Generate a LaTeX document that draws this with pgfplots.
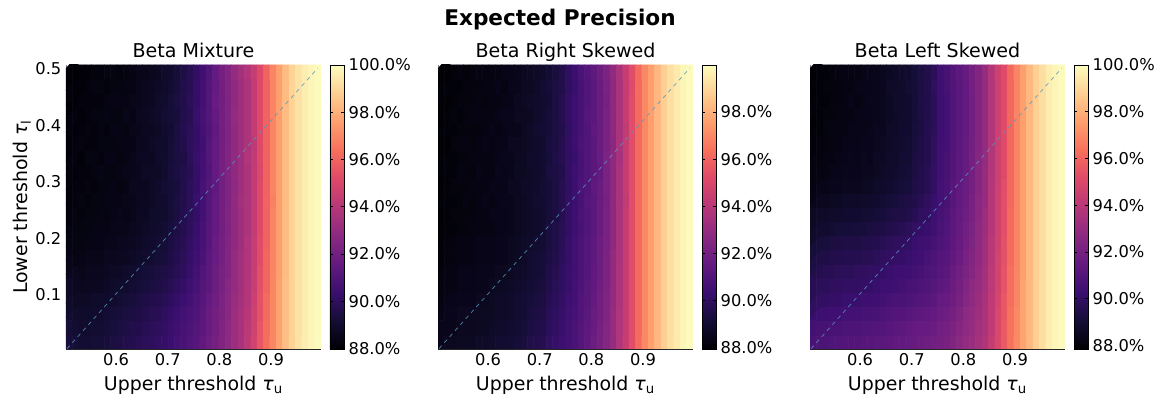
\documentclass[border=0pt]{standalone}
\usepackage{fontspec}
\setmainfont{DejaVu Sans}
\usepackage{pgfplots}
\pgfplotsset{compat=1.18}
\definecolor{steelb}{RGB}{86,150,190}

% magma; one value per line below, 40 per row, bottom row first
\pgfplotsset{
  colormap={magma}{
    rgb255=(0,0,4) rgb255=(20,14,54) rgb255=(59,15,112) rgb255=(100,26,128)
    rgb255=(140,41,129) rgb255=(183,55,121) rgb255=(222,73,104) rgb255=(247,112,92)
    rgb255=(254,159,109) rgb255=(254,207,146) rgb255=(252,253,191)
  },
  heat/.style={
    at={(#1,36.75pt)}, anchor=south west,
    scale only axis, width=191.25pt, height=213pt,
    xmin=0.503, xmax=0.9967, ymin=0.0044, ymax=0.507,
    axis x line*=bottom, axis y line*=left,
    x axis line style={-,black!85}, y axis line style={-,black!50},
    tick align=inside, major tick length=2.5pt, tick style={black,thin},
    xtick={0.6,0.7,0.8,0.9}, ytick={0.1,0.2,0.3,0.4,0.5},
    /pgf/number format/fixed, /pgf/number format/precision=1,
    /pgf/number format/fixed zerofill,
    /pgf/number format/assume math mode=true,
    tick label style={font=\fontsize{12.2}{14}\selectfont},
    label style={font=\fontsize{14.2}{16}\selectfont},
    title style={font=\fontsize{14.3}{16}\selectfont, text depth=0pt, yshift=-4.2pt},
    xlabel={Upper threshold \textit{τ}\textsubscript{u}},
    xlabel style={yshift=-1pt},
    colormap name=magma,
    colorbar,
    colorbar style={
      at={(1.0353,0)}, anchor=south west,
      width=10.5pt, height=213pt,
      ytick={88,90,92,94,96,98,100},
      yticklabel={\pgfmathprintnumber[fixed,fixed zerofill,precision=1,assume math mode=true]{\tick}\%},
      tick align=inside, major tick length=2pt,
      tick label style={font=\fontsize{12.2}{14}\selectfont},
    },
  },
  heatcells/.style={matrix plot*, mesh/cols=40, point meta=explicit},
  thresholdline/.style={no marks, dashed, color=steelb, opacity=0.85, line width=0.55pt, mesh/check=false},
}

\begin{document}
\begin{tikzpicture}
\useasboundingbox (0,0) rectangle (867pt,298.5pt);
\node[font=\fontsize{16.2}{18}\bfseries] at (420pt,283.5pt) {Expected Precision};

\begin{axis}[heat=49.5pt, title={Beta Mixture},
  ylabel={Lower threshold \textit{τ}\textsubscript{l}}, ylabel style={yshift=-3.5pt},
  point meta min=87.98, point meta max=100]
\addplot[heatcells] table[header=false, meta index=0,
  x expr={0.5092+0.01234*mod(\coordindex,40)}, y expr={0.017+0.02513*floor(\coordindex/40)}] {
89.3
89.2
89.1
89.1
89.2
89.2
89.3
89.4
89.5
89.6
89.7
89.8
89.9
90.0
90.1
90.2
90.4
90.6
90.8
91.0
91.2
91.5
91.8
92.1
92.4
92.8
93.2
93.6
94.1
94.8
95.6
96.3
97.0
97.7
98.4
98.9
99.3
99.6
99.8
99.95
89.2
89.1
89.0
89.0
89.1
89.1
89.2
89.3
89.4
89.5
89.6
89.6
89.8
89.9
90.0
90.1
90.3
90.5
90.7
90.9
91.1
91.4
91.7
92.0
92.4
92.8
93.2
93.6
94.1
94.7
95.6
96.3
97.0
97.7
98.4
98.9
99.3
99.6
99.8
99.95
89.1
89.0
88.9
88.9
89.0
89.0
89.1
89.2
89.3
89.4
89.4
89.5
89.6
89.8
89.8
90.0
90.2
90.4
90.6
90.8
91.0
91.3
91.7
92.0
92.3
92.7
93.2
93.6
94.0
94.7
95.5
96.2
97.0
97.7
98.4
98.9
99.3
99.6
99.8
99.95
88.9
88.8
88.8
88.8
88.9
88.9
88.9
89.0
89.1
89.2
89.3
89.4
89.5
89.6
89.7
89.8
90.0
90.2
90.4
90.6
90.9
91.2
91.6
91.9
92.3
92.7
93.1
93.5
93.9
94.6
95.5
96.2
97.0
97.7
98.4
98.9
99.3
99.6
99.8
99.95
88.8
88.7
88.6
88.7
88.7
88.7
88.8
88.9
89.0
89.0
89.1
89.2
89.3
89.4
89.5
89.6
89.8
90.0
90.2
90.5
90.7
91.1
91.4
91.8
92.2
92.6
93.0
93.4
93.9
94.5
95.4
96.1
97.0
97.7
98.4
98.9
99.3
99.6
99.8
99.95
88.6
88.6
88.5
88.6
88.6
88.6
88.7
88.8
88.8
88.9
89.0
89.1
89.2
89.3
89.4
89.5
89.6
89.8
90.0
90.3
90.6
91.0
91.4
91.8
92.2
92.5
93.0
93.4
93.8
94.5
95.4
96.1
96.9
97.6
98.3
98.9
99.3
99.6
99.8
99.95
88.5
88.4
88.4
88.5
88.5
88.5
88.6
88.6
88.7
88.7
88.8
88.9
89.0
89.1
89.2
89.3
89.5
89.7
89.9
90.2
90.5
90.8
91.3
91.7
92.1
92.5
93.0
93.4
93.8
94.4
95.3
96.1
96.9
97.6
98.3
98.9
99.3
99.6
99.8
99.95
88.4
88.3
88.3
88.4
88.4
88.4
88.5
88.5
88.6
88.6
88.7
88.8
88.9
89.0
89.1
89.2
89.4
89.6
89.8
90.1
90.4
90.7
91.2
91.7
92.1
92.5
92.9
93.3
93.8
94.4
95.3
96.0
96.9
97.6
98.3
98.9
99.3
99.6
99.8
99.95
88.3
88.3
88.3
88.3
88.4
88.4
88.4
88.5
88.5
88.5
88.6
88.7
88.8
88.9
89.0
89.1
89.3
89.5
89.7
90.0
90.3
90.7
91.2
91.6
92.0
92.4
92.9
93.3
93.7
94.3
95.2
96.0
96.9
97.6
98.3
98.9
99.3
99.6
99.8
99.95
88.2
88.3
88.2
88.3
88.3
88.4
88.3
88.4
88.5
88.4
88.5
88.7
88.7
88.9
88.9
89.0
89.2
89.4
89.7
89.9
90.2
90.6
91.1
91.6
92.0
92.5
92.9
93.3
93.7
94.3
95.2
96.0
96.9
97.6
98.3
98.9
99.3
99.6
99.8
99.95
88.2
88.2
88.3
88.2
88.3
88.3
88.4
88.4
88.4
88.5
88.5
88.6
88.7
88.8
89.0
89.0
89.2
89.4
89.6
89.9
90.3
90.6
91.1
91.6
92.0
92.4
92.9
93.4
93.7
94.3
95.2
96.0
96.8
97.6
98.3
98.9
99.3
99.6
99.8
99.95
88.1
88.2
88.2
88.3
88.2
88.3
88.3
88.4
88.3
88.4
88.6
88.6
88.6
88.8
88.9
89.1
89.2
89.3
89.6
89.9
90.2
90.7
91.1
91.5
92.0
92.4
92.8
93.3
93.7
94.3
95.2
96.0
96.9
97.6
98.3
98.9
99.3
99.6
99.8
99.95
88.2
88.1
88.2
88.2
88.3
88.4
88.3
88.3
88.4
88.5
88.5
88.6
88.8
88.8
88.8
89.0
89.3
89.4
89.6
89.8
90.2
90.6
91.0
91.6
92.1
92.4
92.9
93.3
93.7
94.3
95.1
96.0
96.9
97.6
98.3
98.9
99.3
99.6
99.8
99.95
88.2
88.2
88.1
88.3
88.3
88.2
88.4
88.4
88.3
88.4
88.5
88.7
88.7
88.7
88.9
89.0
89.2
89.4
89.5
89.9
90.3
90.6
91.1
91.6
92.0
92.5
92.9
93.3
93.8
94.3
95.2
96.0
96.9
97.6
98.3
98.9
99.3
99.6
99.8
99.95
88.1
88.2
88.3
88.2
88.2
88.3
88.3
88.3
88.4
88.4
88.4
88.6
88.6
88.8
88.9
88.9
89.2
89.4
89.6
90.0
90.2
90.5
91.1
91.6
92.0
92.4
92.9
93.3
93.7
94.2
95.2
96.0
96.9
97.6
98.3
98.9
99.3
99.6
99.8
99.95
88.2
88.1
88.2
88.3
88.2
88.3
88.2
88.4
88.4
88.3
88.5
88.5
88.7
88.7
88.8
89.0
89.1
89.4
89.7
89.9
90.2
90.6
91.0
91.5
92.0
92.4
92.9
93.3
93.7
94.3
95.2
96.0
96.9
97.6
98.3
98.9
99.3
99.6
99.8
99.95
88.2
88.2
88.1
88.2
88.3
88.3
88.4
88.3
88.3
88.5
88.4
88.6
88.7
88.8
88.9
89.1
89.2
89.3
89.6
89.8
90.3
90.7
91.1
91.6
92.0
92.4
93.0
93.3
93.7
94.3
95.2
96.0
96.9
97.6
98.3
98.9
99.3
99.6
99.8
99.95
88.1
88.1
88.2
88.2
88.2
88.2
88.3
88.4
88.4
88.4
88.5
88.5
88.6
88.7
88.9
89.0
89.2
89.4
89.6
89.9
90.2
90.6
91.1
91.7
92.0
92.4
92.9
93.3
93.7
94.3
95.2
96.0
96.9
97.6
98.3
98.9
99.3
99.6
99.8
99.95
88.2
88.1
88.1
88.2
88.3
88.3
88.2
88.3
88.3
88.4
88.4
88.5
88.6
88.7
88.8
88.9
89.1
89.3
89.6
89.8
90.2
90.6
91.1
91.6
92.0
92.5
92.9
93.3
93.7
94.3
95.2
96.0
96.9
97.6
98.3
98.9
99.3
99.6
99.8
99.95
88.1
88.0
88.1
88.1
88.2
88.2
88.3
88.3
88.2
88.3
88.4
88.5
88.5
88.6
88.7
88.9
89.0
89.2
89.5
89.8
90.1
90.5
91.0
91.6
92.1
92.5
93.0
93.4
93.8
94.4
95.2
96.0
96.9
97.6
98.3
98.9
99.3
99.6
99.8
99.95
};
\addplot[thresholdline] coordinates {(0.505,0.005) (0.991,0.502)};
\end{axis}

\begin{axis}[heat=328.5pt, title={Beta Right Skewed}, yticklabels={},
  point meta min=87.95, point meta max=99.99]
\addplot[heatcells] table[header=false, meta index=0,
  x expr={0.5092+0.01234*mod(\coordindex,40)}, y expr={0.017+0.02513*floor(\coordindex/40)}] {
88.5
88.6
88.6
88.7
88.7
88.7
88.8
88.8
88.9
89.0
89.0
89.1
89.2
89.3
89.5
89.6
89.7
90.0
90.2
90.4
90.6
90.8
91.1
91.4
91.8
92.1
92.5
93.0
93.8
94.4
95.3
96.2
97.0
97.6
98.2
98.8
99.2
99.5
99.8
99.95
88.5
88.5
88.5
88.6
88.6
88.6
88.7
88.7
88.8
88.9
88.9
89.0
89.1
89.2
89.4
89.5
89.6
89.9
90.1
90.3
90.6
90.8
91.1
91.4
91.7
92.1
92.5
93.0
93.8
94.4
95.3
96.2
97.0
97.6
98.2
98.8
99.2
99.5
99.8
99.95
88.4
88.5
88.5
88.6
88.6
88.6
88.7
88.7
88.7
88.8
88.8
88.9
89.0
89.1
89.3
89.4
89.5
89.8
90.0
90.2
90.5
90.7
91.0
91.3
91.7
92.0
92.4
93.0
93.8
94.4
95.3
96.2
97.0
97.6
98.2
98.8
99.2
99.5
99.8
99.95
88.3
88.4
88.4
88.5
88.5
88.5
88.6
88.6
88.7
88.8
88.8
88.9
89.0
89.1
89.2
89.3
89.4
89.7
89.9
90.1
90.4
90.6
91.0
91.2
91.6
92.0
92.4
92.9
93.7
94.4
95.3
96.2
97.0
97.6
98.2
98.8
99.2
99.5
99.8
99.95
88.2
88.3
88.3
88.4
88.4
88.4
88.5
88.5
88.6
88.7
88.7
88.8
88.9
89.0
89.1
89.2
89.3
89.6
89.8
90.0
90.3
90.6
90.9
91.2
91.5
91.9
92.3
92.9
93.7
94.4
95.3
96.2
97.0
97.6
98.2
98.8
99.2
99.5
99.8
99.95
88.2
88.3
88.3
88.4
88.4
88.4
88.5
88.5
88.5
88.6
88.6
88.7
88.8
88.9
89.0
89.1
89.2
89.5
89.7
90.0
90.3
90.5
90.8
91.1
91.5
91.8
92.3
92.9
93.7
94.4
95.3
96.2
97.0
97.6
98.2
98.8
99.2
99.5
99.8
99.95
88.1
88.2
88.2
88.3
88.3
88.3
88.4
88.4
88.4
88.5
88.5
88.6
88.7
88.8
89.0
89.1
89.2
89.4
89.6
89.9
90.2
90.5
90.8
91.1
91.4
91.8
92.3
92.9
93.6
94.4
95.3
96.2
97.0
97.6
98.2
98.8
99.2
99.5
99.8
99.95
88.1
88.2
88.2
88.3
88.3
88.3
88.4
88.4
88.4
88.5
88.5
88.6
88.7
88.8
88.9
89.0
89.1
89.3
89.5
89.8
90.2
90.5
90.8
91.1
91.4
91.8
92.2
92.8
93.6
94.4
95.3
96.2
97.0
97.6
98.2
98.8
99.2
99.5
99.8
99.95
88.0
88.1
88.1
88.2
88.2
88.3
88.3
88.3
88.3
88.4
88.4
88.5
88.6
88.7
88.8
88.9
89.0
89.3
89.5
89.8
90.1
90.4
90.7
91.0
91.3
91.7
92.2
92.8
93.6
94.4
95.3
96.2
97.0
97.6
98.2
98.8
99.2
99.5
99.8
99.95
88.0
88.1
88.2
88.2
88.2
88.2
88.3
88.3
88.4
88.4
88.4
88.5
88.6
88.7
88.8
88.9
89.0
89.2
89.4
89.7
90.1
90.4
90.8
91.0
91.3
91.7
92.2
92.8
93.6
94.4
95.3
96.2
97.0
97.6
98.2
98.8
99.2
99.5
99.8
99.95
88.1
88.1
88.1
88.2
88.3
88.2
88.3
88.4
88.3
88.4
88.5
88.5
88.6
88.7
88.8
89.0
89.0
89.2
89.4
89.7
90.1
90.4
90.7
91.1
91.3
91.7
92.1
92.8
93.6
94.3
95.3
96.2
97.0
97.6
98.2
98.8
99.2
99.5
99.8
99.95
88.0
88.1
88.2
88.2
88.2
88.3
88.3
88.3
88.4
88.4
88.4
88.6
88.6
88.8
88.8
88.9
89.1
89.2
89.4
89.7
90.0
90.4
90.8
91.0
91.4
91.7
92.2
92.8
93.6
94.4
95.3
96.2
97.0
97.6
98.2
98.8
99.2
99.5
99.8
99.95
88.0
88.1
88.1
88.3
88.2
88.2
88.4
88.3
88.3
88.5
88.4
88.5
88.7
88.7
88.8
88.9
89.0
89.3
89.4
89.6
90.1
90.4
90.7
91.0
91.3
91.6
92.2
92.8
93.6
94.4
95.3
96.2
97.0
97.6
98.2
98.8
99.2
99.5
99.8
99.95
88.1
88.1
88.1
88.2
88.2
88.3
88.3
88.3
88.3
88.4
88.5
88.5
88.6
88.7
88.9
88.9
89.0
89.2
89.5
89.7
90.1
90.3
90.7
91.0
91.3
91.7
92.3
92.8
93.5
94.4
95.3
96.2
97.0
97.6
98.2
98.8
99.2
99.5
99.8
99.95
88.0
88.0
88.2
88.2
88.3
88.2
88.3
88.4
88.3
88.4
88.4
88.6
88.6
88.7
88.8
88.9
89.0
89.3
89.4
89.7
90.1
90.4
90.8
91.0
91.3
91.7
92.2
92.7
93.6
94.4
95.3
96.2
97.0
97.6
98.2
98.8
99.2
99.5
99.8
99.95
88.1
88.1
88.1
88.2
88.2
88.2
88.2
88.3
88.4
88.3
88.4
88.5
88.5
88.7
88.8
89.0
89.1
89.2
89.4
89.6
90.0
90.4
90.7
91.0
91.4
91.7
92.2
92.8
93.6
94.3
95.3
96.2
97.0
97.6
98.2
98.8
99.2
99.5
99.8
99.95
88.0
88.1
88.2
88.1
88.2
88.3
88.3
88.3
88.3
88.4
88.5
88.5
88.6
88.6
88.7
88.9
89.0
89.2
89.4
89.7
90.1
90.4
90.7
91.1
91.3
91.7
92.2
92.8
93.6
94.4
95.3
96.2
97.0
97.6
98.2
98.8
99.2
99.5
99.8
99.95
88.0
88.0
88.1
88.2
88.2
88.2
88.3
88.2
88.3
88.3
88.4
88.4
88.6
88.7
88.8
88.9
89.0
89.1
89.4
89.7
90.1
90.4
90.7
91.0
91.3
91.7
92.1
92.8
93.6
94.4
95.3
96.2
97.0
97.6
98.2
98.8
99.2
99.5
99.8
99.95
88.1
88.1
88.1
88.1
88.2
88.2
88.2
88.3
88.3
88.4
88.3
88.5
88.5
88.7
88.7
88.8
89.0
89.2
89.4
89.6
90.0
90.3
90.7
91.0
91.3
91.7
92.2
92.8
93.6
94.4
95.2
96.2
97.0
97.6
98.2
98.8
99.2
99.5
99.8
99.95
88.0
88.0
88.1
88.2
88.1
88.2
88.3
88.2
88.3
88.3
88.4
88.4
88.5
88.6
88.7
88.8
88.9
89.1
89.3
89.6
90.0
90.4
90.8
91.1
91.4
91.8
92.3
92.9
93.6
94.4
95.3
96.2
97.0
97.6
98.2
98.8
99.2
99.5
99.8
99.95
};
\addplot[thresholdline] coordinates {(0.505,0.005) (0.991,0.502)};
\end{axis}

\begin{axis}[heat=607.5pt, title={Beta Left Skewed}, yticklabels={},
  point meta min=87.85, point meta max=100]
\addplot[heatcells] table[header=false, meta index=0,
  x expr={0.5092+0.01234*mod(\coordindex,40)}, y expr={0.017+0.02513*floor(\coordindex/40)}] {
90.7
90.8
90.8
90.9
90.9
91.0
91.0
91.0
91.1
91.1
91.2
91.2
91.3
91.4
91.4
91.5
91.6
91.7
91.8
91.9
92.0
92.1
92.3
92.6
92.9
93.1
93.4
93.7
94.3
95.0
95.7
96.4
97.0
97.7
98.2
98.8
99.2
99.6
99.8
99.95
90.5
90.6
90.6
90.7
90.7
90.8
90.8
90.8
90.9
90.9
91.0
91.0
91.1
91.2
91.3
91.4
91.5
91.6
91.6
91.7
91.9
92.0
92.2
92.5
92.8
93.0
93.3
93.6
94.2
95.0
95.7
96.4
97.0
97.7
98.2
98.8
99.2
99.6
99.8
99.95
90.2
90.3
90.3
90.4
90.4
90.5
90.5
90.5
90.6
90.6
90.7
90.8
90.9
91.0
91.0
91.1
91.2
91.3
91.4
91.5
91.7
91.8
92.0
92.3
92.7
92.9
93.2
93.6
94.2
95.0
95.6
96.4
97.0
97.7
98.2
98.8
99.2
99.6
99.8
99.95
89.9
90.0
90.0
90.1
90.1
90.2
90.2
90.2
90.3
90.3
90.4
90.5
90.6
90.7
90.7
90.8
90.9
91.0
91.1
91.2
91.5
91.6
91.8
92.1
92.5
92.8
93.1
93.5
94.2
94.9
95.6
96.3
96.9
97.7
98.2
98.8
99.2
99.6
99.8
99.95
89.7
89.8
89.8
89.9
89.9
90.0
90.0
90.0
90.1
90.1
90.2
90.3
90.3
90.4
90.5
90.6
90.7
90.8
90.9
91.1
91.3
91.4
91.7
92.0
92.4
92.7
93.0
93.4
94.1
94.8
95.5
96.3
96.9
97.7
98.2
98.8
99.2
99.6
99.8
99.95
89.5
89.6
89.7
89.7
89.8
89.8
89.8
89.9
89.9
90.0
90.0
90.1
90.2
90.3
90.3
90.4
90.5
90.6
90.8
90.9
91.1
91.2
91.6
91.9
92.2
92.5
92.9
93.3
94.1
94.8
95.5
96.3
96.9
97.6
98.2
98.8
99.2
99.6
99.8
99.95
89.3
89.4
89.4
89.5
89.5
89.6
89.6
89.6
89.7
89.7
89.8
89.9
90.0
90.1
90.1
90.2
90.3
90.4
90.6
90.8
91.0
91.1
91.4
91.7
92.1
92.4
92.8
93.2
94.0
94.8
95.4
96.2
96.9
97.6
98.2
98.8
99.2
99.6
99.8
99.95
89.1
89.2
89.2
89.3
89.3
89.4
89.4
89.4
89.5
89.5
89.6
89.7
89.8
89.9
89.9
90.0
90.2
90.3
90.4
90.6
90.8
91.0
91.3
91.6
92.0
92.3
92.7
93.2
94.0
94.7
95.4
96.2
96.9
97.6
98.2
98.8
99.2
99.6
99.8
99.95
88.8
88.9
88.9
89.0
89.1
89.1
89.1
89.2
89.2
89.3
89.3
89.4
89.5
89.6
89.7
89.8
90.0
90.1
90.2
90.4
90.7
90.9
91.2
91.6
91.9
92.2
92.7
93.1
93.9
94.7
95.3
96.2
96.9
97.6
98.2
98.8
99.2
99.6
99.8
99.95
88.6
88.7
88.7
88.8
88.8
88.9
88.9
88.9
89.0
89.0
89.1
89.2
89.3
89.4
89.4
89.5
89.7
89.9
90.0
90.3
90.6
90.8
91.2
91.5
91.8
92.1
92.6
93.1
93.9
94.7
95.3
96.2
96.9
97.6
98.2
98.8
99.2
99.6
99.8
99.95
88.4
88.5
88.5
88.6
88.6
88.7
88.7
88.7
88.8
88.8
88.9
89.0
89.1
89.2
89.3
89.4
89.5
89.7
89.9
90.2
90.5
90.7
91.1
91.4
91.7
92.1
92.6
93.0
93.9
94.7
95.3
96.1
96.9
97.6
98.2
98.8
99.2
99.6
99.8
99.95
88.2
88.3
88.3
88.4
88.4
88.5
88.5
88.5
88.6
88.6
88.7
88.8
88.9
89.0
89.1
89.2
89.4
89.5
89.7
90.0
90.5
90.7
91.1
91.4
91.7
92.0
92.5
93.0
93.9
94.6
95.3
96.1
96.9
97.6
98.2
98.8
99.2
99.6
99.8
99.95
88.1
88.2
88.2
88.3
88.3
88.4
88.4
88.4
88.5
88.5
88.6
88.7
88.8
88.9
89.0
89.1
89.3
89.5
89.7
90.0
90.4
90.6
91.0
91.3
91.6
92.0
92.5
93.0
93.8
94.6
95.2
96.1
96.9
97.6
98.2
98.8
99.2
99.6
99.8
99.95
88.1
88.1
88.2
88.2
88.3
88.3
88.4
88.3
88.5
88.4
88.6
88.6
88.8
88.8
89.0
89.0
89.3
89.4
89.6
89.9
90.4
90.6
91.0
91.3
91.6
92.0
92.5
92.9
93.8
94.6
95.2
96.1
96.9
97.6
98.2
98.8
99.2
99.6
99.8
99.95
88.0
88.1
88.1
88.2
88.2
88.3
88.3
88.3
88.4
88.4
88.5
88.6
88.7
88.8
88.9
89.0
89.2
89.4
89.6
89.9
90.4
90.5
90.9
91.3
91.6
91.9
92.4
92.9
93.8
94.6
95.2
96.1
96.9
97.6
98.2
98.8
99.2
99.6
99.8
99.95
88.0
88.0
88.1
88.2
88.2
88.2
88.3
88.3
88.3
88.4
88.5
88.5
88.7
88.7
88.9
88.9
89.2
89.3
89.6
89.8
90.3
90.5
90.9
91.2
91.5
91.9
92.4
92.9
93.8
94.6
95.2
96.1
96.9
97.6
98.2
98.8
99.2
99.6
99.8
99.95
87.9
88.0
88.1
88.1
88.2
88.2
88.2
88.3
88.3
88.3
88.4
88.5
88.6
88.7
88.8
88.9
89.1
89.3
89.5
89.8
90.3
90.5
90.9
91.2
91.5
91.9
92.4
92.9
93.8
94.6
95.2
96.1
96.9
97.6
98.2
98.8
99.2
99.6
99.8
99.95
88.0
88.0
88.0
88.1
88.1
88.2
88.3
88.2
88.3
88.4
88.4
88.5
88.6
88.8
88.8
88.9
89.1
89.4
89.5
89.8
90.3
90.5
90.9
91.2
91.5
91.9
92.4
92.9
93.8
94.6
95.2
96.1
96.9
97.6
98.2
98.8
99.2
99.6
99.8
99.95
87.9
88.0
88.1
88.1
88.1
88.2
88.2
88.3
88.3
88.3
88.4
88.5
88.7
88.7
88.8
89.0
89.1
89.3
89.5
89.9
90.3
90.6
90.9
91.2
91.5
92.0
92.4
92.9
93.8
94.6
95.2
96.1
96.9
97.6
98.2
98.8
99.2
99.6
99.8
99.95
87.9
88.0
88.0
88.1
88.2
88.2
88.2
88.2
88.3
88.3
88.4
88.5
88.6
88.7
88.8
88.9
89.1
89.3
89.5
89.8
90.4
90.6
91.0
91.3
91.6
92.0
92.4
93.0
93.8
94.6
95.2
96.1
96.9
97.6
98.2
98.8
99.2
99.6
99.8
99.95
};
\addplot[thresholdline] coordinates {(0.505,0.005) (0.991,0.502)};
\end{axis}
\end{tikzpicture}
\end{document}
